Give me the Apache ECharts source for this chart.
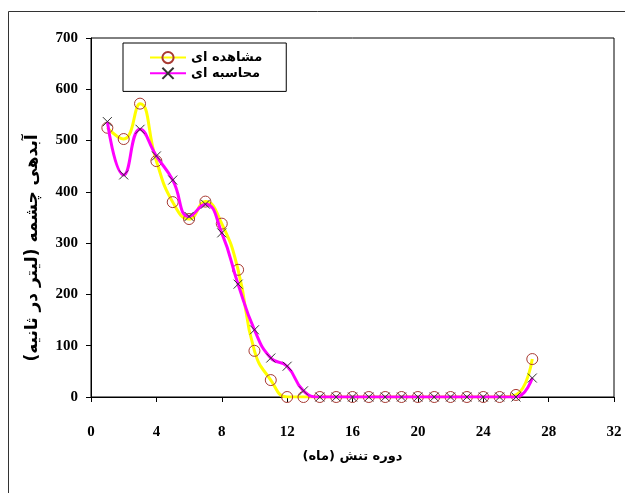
<!DOCTYPE html>
<html>
<head>
<meta charset="utf-8">
<script src="https://cdn.jsdelivr.net/npm/echarts@6/dist/echarts.min.js"></script>
<style>
  html, body { margin: 0; padding: 0; background: #fff; }
  #chart { width: 625px; height: 493px; }
</style>
</head>
<body>
<div id="chart"></div>
<script>
// months (x) and spring discharge, litres per second
var months = [1, 2, 3, 4, 5, 6, 7, 8, 9, 10, 11, 12, 13, 14, 15, 16, 17, 18, 19, 20, 21, 22, 23, 24, 25, 26, 27];
var observed = [525, 503, 572, 460, 380, 347, 381, 338, 248, 90, 33, 0, 0, 0, 0, 0, 0, 0, 0, 0, 0, 0, 0, 0, 0, 4, 74];
var calculated = [537, 433, 522, 470, 423, 352, 376, 320, 220, 131, 76, 60, 12, 0, 0, 0, 0, 0, 0, 0, 0, 0, 0, 0, 0, 0, 37];
var seriesNames = ['مشاهده ای', 'محاسبه ای'];
var xTitle = 'دوره تنش (ماه)';
var yTitle = 'آبدهی چشمه (لیتر در ثانیه)';

function pairs(vals) {
    return months.map(function (m, i) { return [m, vals[i]]; });
}

var chart = echarts.init(document.getElementById('chart'));
var numFont = 'Liberation Serif';
var faFont = 'DejaVu Sans';

var option = {
    backgroundColor: '#fff',
    animation: false,
    grid: {
        left: 91, top: 38, right: 11, bottom: 96,
        show: true, borderColor: '#000', borderWidth: 1
    },
    legend: {
        orient: 'vertical',
        left: 123, top: 43,
        padding: [8, 24, 10, 26],
        itemGap: 1,
        itemWidth: 36, itemHeight: 14,
        borderColor: '#000', borderWidth: 1,
        backgroundColor: '#fff',
        textStyle: { color: '#000', fontWeight: 'bold', fontSize: 13, fontFamily: faFont },
        data: seriesNames
    },
    xAxis: {
        type: 'value',
        min: 0, max: 32, interval: 4,
        name: xTitle,
        nameLocation: 'middle',
        nameGap: 53,
        nameTextStyle: { color: '#000', fontWeight: 'bold', fontSize: 13, fontFamily: faFont },
        axisLine: { show: true, onZero: false, lineStyle: { color: '#000', width: 1 } },
        axisTick: { show: true, length: 5, lineStyle: { color: '#000' } },
        axisLabel: { color: '#000', fontWeight: 'bold', fontSize: 15, fontFamily: numFont, margin: 28 },
        splitLine: { show: false }
    },
    yAxis: {
        type: 'value',
        min: 0, max: 700, interval: 100,
        axisLine: { show: true, lineStyle: { color: '#000', width: 1 } },
        axisTick: { show: true, length: 5, lineStyle: { color: '#000' } },
        axisLabel: { color: '#000', fontWeight: 'bold', fontSize: 15, fontFamily: numFont, margin: 13 },
        splitLine: { show: false }
    },
    graphic: [
        {
            type: 'rect',
            shape: { x: 8.5, y: 11.5, width: 640, height: 500 },
            style: { fill: 'none', stroke: '#333', lineWidth: 1 },
            silent: true, z: -1
        },
        {
            type: 'text',
            x: 33, y: 248,
            rotation: Math.PI / 2,
            style: {
                text: yTitle,
                fill: '#000',
                font: 'bold 17px "DejaVu Sans"',
                textAlign: 'center',
                textVerticalAlign: 'middle'
            }
        }
    ],
    series: [
        {
            name: seriesNames[0],
            type: 'line',
            smooth: 0.5,
            data: pairs(observed),
            symbol: 'circle',
            symbolSize: 11,
            lineStyle: { color: '#ffff00', width: 3 },
            itemStyle: { color: 'rgba(255,255,255,0)', borderColor: '#a83a32', borderWidth: 1 },
            z: 2
        },
        {
            name: seriesNames[1],
            type: 'line',
            smooth: 0.5,
            data: pairs(calculated),
            symbol: 'path://M0,0L10,10M10,0L0,10',
            symbolSize: 9,
            lineStyle: { color: '#ff00ff', width: 3 },
            itemStyle: { color: 'none', borderColor: '#333', borderWidth: 1 },
            z: 3
        }
    ]
};
chart.setOption(option);
</script>
</body>
</html>
